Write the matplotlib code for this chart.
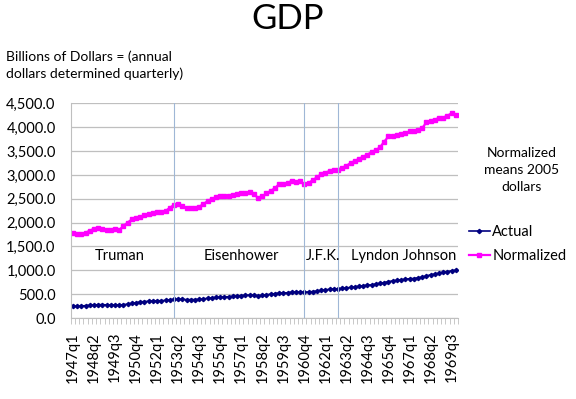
import matplotlib
matplotlib.use("Agg")
import matplotlib.pyplot as plt
import numpy as np

plt.rcParams['font.family'] = ['Lato', 'DejaVu Sans']

# quarterly GDP, 1947q1 .. 1969q4
years = list(range(1947, 1970))
quarters = [f"{y}q{q}" for y in years for q in range(1, 5)]

actual = [243, 246, 250, 260, 266, 272, 279, 280, 275, 271, 273, 271,
          281, 290, 308, 319, 337, 345, 351, 357, 361, 362, 369, 382,
          389, 392, 391, 385, 385, 386, 391, 400, 413, 422, 431, 437,
          439, 446, 451, 461, 470, 474, 481, 476, 468, 473, 487, 500,
          511, 524, 525, 529, 543, 542, 546, 541, 545, 555, 565, 578,
          592, 601, 609, 614, 622, 630, 642, 651, 667, 677, 689, 694,
          713, 726, 742, 764, 778, 788, 800, 812, 823, 828, 842, 858,
          882, 905, 921, 936, 958, 973, 990, 1000]

normalized = [1777, 1770, 1757, 1790, 1830, 1870, 1880, 1875, 1855, 1840, 1865, 1845,
              1930, 2000, 2069, 2100, 2120, 2152, 2190, 2208, 2215, 2230, 2242, 2310,
              2370, 2381, 2346, 2310, 2297, 2300, 2330, 2390, 2450, 2495, 2530, 2550,
              2550, 2565, 2570, 2598, 2620, 2610, 2634, 2590, 2520, 2550, 2610, 2667,
              2720, 2807, 2800, 2830, 2875, 2860, 2862, 2807, 2830, 2890, 2950, 3015,
              3050, 3080, 3100, 3113, 3150, 3190, 3252, 3290, 3340, 3380, 3425, 3480,
              3520, 3580, 3700, 3806, 3815, 3840, 3855, 3880, 3910, 3930, 3940, 3980,
              4100, 4140, 4160, 4190, 4200, 4240, 4292, 4257]

presidents = ["Truman", "Eisenhower", "J.F.K.", "Lyndon Johnson"]
term_starts = ["1953q1", "1960q4", "1962q4"]

fig = plt.figure(figsize=(5.76, 3.99), dpi=100)
ax = fig.add_axes([0.123, 0.203, 0.672, 0.538])

x = np.arange(len(quarters))
ax.plot(x, actual, color='#000080', marker='D', markersize=2.2, linewidth=1.2, label='Actual')
ax.plot(x, normalized, color='#FF00FF', marker='s', markersize=3, linewidth=1.6, label='Normalized')

ax.set_xlim(-0.5, len(quarters) - 0.5)
ax.set_ylim(0, 4500)
ax.set_yticks(np.arange(0, 4501, 500))
ax.set_yticklabels([f"{v:,.1f}" for v in np.arange(0, 4501, 500)], fontsize=10.5)
ax.yaxis.grid(True, color='#bfbfbf', linewidth=0.9)
ax.set_axisbelow(True)

ax.set_xticks(x[::5])
ax.set_xticklabels(quarters[::5], rotation=90, fontsize=10.5)
ax.set_xticks(np.arange(-0.5, len(quarters), 1), minor=True)
ax.tick_params(axis='x', which='major', length=0, pad=10)
ax.tick_params(axis='x', which='minor', length=4, color='#bfbfbf')
ax.tick_params(axis='y', length=0, pad=11)

for s in ['top', 'right']:
    ax.spines[s].set_visible(False)
ax.spines['left'].set_color('#bfbfbf')
ax.spines['bottom'].set_color('#bfbfbf')

for q in term_starts:
    ax.axvline(quarters.index(q), color='#9fb7d6', linewidth=0.8)

label_x = [11, 40, 59.5, 78.5]
for name, lx in zip(presidents, label_x):
    ax.text(lx, 1300, name, ha='center', va='center', fontsize=10.5)

fig.text(0.5, 0.952, "GDP", ha='center', va='center', fontsize=25)
fig.text(0.01, 0.836, "Billions of Dollars = (annual\ndollars determined quarterly)",
         ha='left', va='center', fontsize=10, linespacing=1.45)
fig.text(0.905, 0.575, "Normalized\nmeans 2005\ndollars", ha='center', va='center',
         fontsize=10, linespacing=1.5)

leg = ax.legend(loc='center left', bbox_to_anchor=(0.995, 0.345), frameon=False,
                fontsize=10.5, handlelength=1.4, handletextpad=0.2, labelspacing=0.65)

fig.savefig("out.png", dpi=100)
